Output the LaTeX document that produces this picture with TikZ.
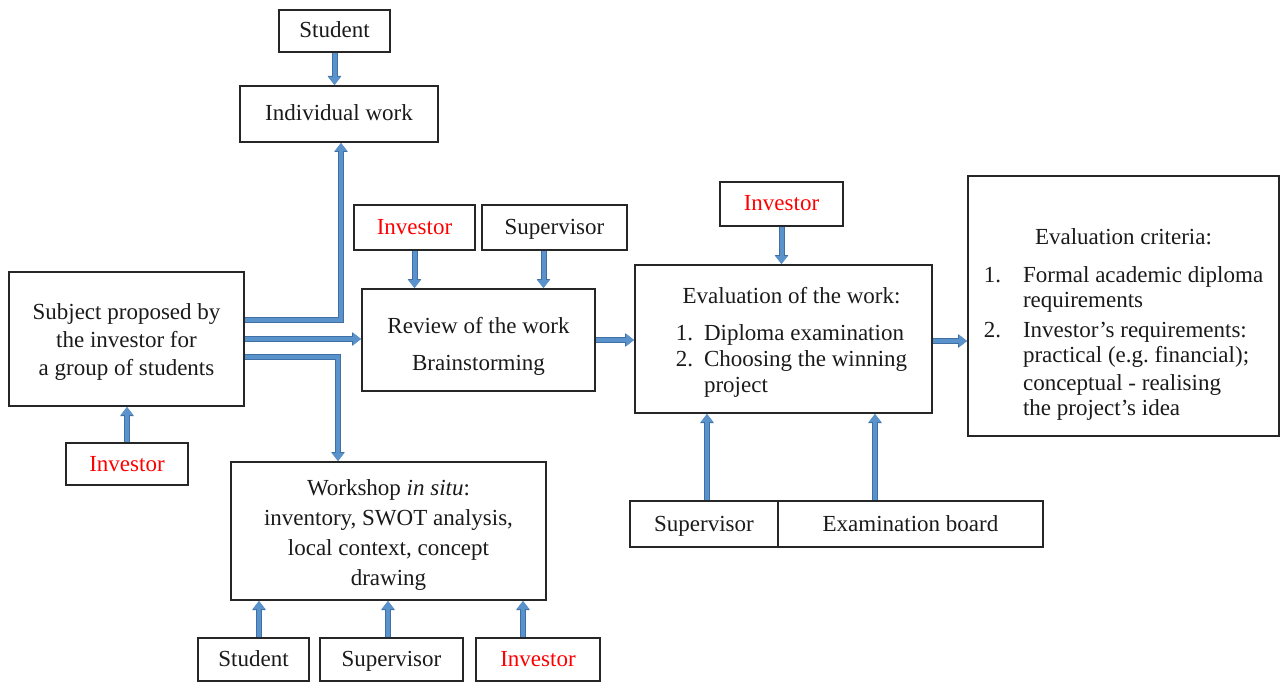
\documentclass[tikz,border=0pt]{standalone}
\usepackage{fontspec}
\setmainfont{Liberation Serif}
\frenchspacing
\usetikzlibrary{arrows.meta,calc}
\definecolor{boxline}{HTML}{262626}
\definecolor{txt}{HTML}{1A1A1A}
\definecolor{arrowfill}{HTML}{5A92CB}
\definecolor{arrowedge}{HTML}{3F6FA3}
\definecolor{invred}{HTML}{FF0000}
\tikzset{
  box/.style={draw=boxline, line width=2pt, rectangle, inner sep=0pt, text=txt, align=center,
    font=\fontsize{23}{28}\selectfont},
  one/.style={text height=18pt, text depth=4pt},
  flow/.style={draw=arrowfill, line width=4pt, -{Triangle[width=12pt,length=8pt]},
    preaction={draw=arrowedge, line width=6pt, -{Triangle[width=13pt,length=9pt]}}},
  inv/.style={text=invred},
}
\begin{document}
\begin{tikzpicture}[x=1pt,y=-1pt]
\useasboundingbox (0,0) rectangle (1280,682);
% nodes
\node[box, one, minimum width=111pt, minimum height=42pt] (stT) at (334.5,31) {Student};
\node[box, one, minimum width=198pt, minimum height=56pt] (indiv) at (339,114) {Individual work};
\node[box, minimum width=235pt, minimum height=134pt] (subj) at (126.5,339) {\rule{0pt}{22pt}Subject proposed by\\the investor for\\a group of students};
\node[box, one, inv, minimum width=122pt, minimum height=42pt] (invL) at (127,464) {Investor};
\node[box, one, inv, minimum width=121pt, minimum height=45pt] (invR) at (414.5,227.5) {Investor};
\node[box, one, minimum width=145pt, minimum height=45pt] (supR) at (554.5,227.5) {Supervisor};
\node[box, minimum width=233pt, minimum height=102pt] (rev) at (478.5,340) {\rule{0pt}{28pt}Review of the work\\[9pt]Brainstorming};
\node[box, one, inv, minimum width=123pt, minimum height=44pt] (invE) at (781.5,204) {Investor};
\node[box, minimum width=297pt, minimum height=148pt, font=\fontsize{23}{26}\selectfont] (eval) at (783.5,339) {\hspace*{16pt}\begin{tabular}{@{}l@{\hspace{11pt}}l@{}}
\multicolumn{2}{c}{\rule{0pt}{26pt}Evaluation of the work:}\\[11pt]
1. & Diploma examination\\
2. & Choosing the winning\\
   & project
\end{tabular}};
\node[box, minimum width=311pt, minimum height=260pt, font=\fontsize{23}{25.5}\selectfont] (crit) at (1123.5,306) {\begin{tabular}{@{}l@{\hspace{22pt}}l@{}}
\multicolumn{2}{c}{\rule{0pt}{56pt}Evaluation criteria:}\\[12pt]
1. & Formal academic diploma\\
   & requirements\\[4pt]
2. & Investor’s requirements:\\
   & practical (e.g. financial);\\[2pt]
   & conceptual - realising\\
   & the project’s idea
\end{tabular}};
\node[box, one, minimum width=148pt, minimum height=46pt] (supE) at (704,524) {Supervisor};
\node[box, one, minimum width=265pt, minimum height=46pt] (board) at (910.5,524) {Examination board};
\node[box, minimum width=315pt, minimum height=138pt, font=\fontsize{23}{30}\selectfont] (work) at (388.5,531) {\rule{0pt}{24pt}Workshop \emph{in situ}:\\inventory, SWOT analysis,\\local context, concept\\drawing};
\node[box, one, minimum width=111pt, minimum height=43pt] (stB) at (253.5,659.5) {Student};
\node[box, one, minimum width=143pt, minimum height=43pt] (supB) at (391.5,659.5) {Supervisor};
\node[box, one, inv, minimum width=124pt, minimum height=43pt] (invB) at (538,659.5) {Investor};
% connectors
\draw[flow] (stT.south) -- (stT.south |- indiv.north);
\draw[flow] ($(subj.east)+(0,-19)$) -| ($(indiv.south)+(2,0)$);
\draw[flow] (subj.east) -- (subj.east -| rev.west);
\draw[flow] ($(subj.east)+(0,18)$) -| ($(work.north)+(-50.5,0)$);
\draw[flow] (invL.north) -- (invL.north |- subj.south);
\draw[flow] (invR.south) -- (invR.south |- rev.north);
\draw[flow] ($(supR.south)+(-11,0)$) -- ($(supR.south |- rev.north)+(-11,0)$);
\draw[flow] (rev.east) -- (rev.east -| eval.west);
\draw[flow] (invE.south) -- (invE.south |- eval.north);
\draw[flow] ($(eval.east)+(0,2)$) -- ($(eval.east -| crit.west)+(0,2)$);
\draw[flow] ($(supE.north)+(3,0)$) -- ($(supE.north |- eval.south)+(3,0)$);
\draw[flow] ($(board.north)+(-35.5,0)$) -- ($(board.north |- eval.south)+(-35.5,0)$);
\draw[flow] ($(stB.north)+(5.5,0)$) -- ($(stB.north |- work.south)+(5.5,0)$);
\draw[flow] ($(supB.north)+(-3.5,0)$) -- ($(supB.north |- work.south)+(-3.5,0)$);
\draw[flow] ($(invB.north)+(-15,0)$) -- ($(invB.north |- work.south)+(-15,0)$);
\end{tikzpicture}
\end{document}
